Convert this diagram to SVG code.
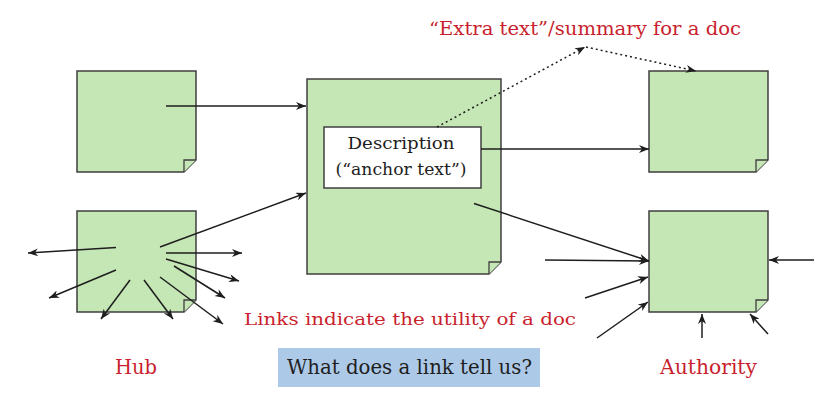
<svg xmlns="http://www.w3.org/2000/svg" width="839" height="409" viewBox="0 0 839 409">
<style>
.doc{fill:#c5e6b5;stroke:#3f3f3f;stroke-width:1.5;stroke-linejoin:miter}
.fold{fill:#c5e6b5;stroke:#3f3f3f;stroke-width:1.3}
.ln{stroke:#1e1e1e;stroke-width:1.5;fill:none;marker-end:url(#ah)}
.dot{stroke:#1e1e1e;stroke-width:1.5;fill:none;stroke-dasharray:2 3;marker-end:url(#ah)}
.red{fill:#c91f2e;font-family:"DejaVu Serif","Liberation Serif",serif}
.blk{fill:#1e1e1e;font-family:"DejaVu Serif","Liberation Serif",serif}
</style>
<defs>
<marker id="ah" viewBox="0 0 10 8" refX="10" refY="4" markerWidth="11" markerHeight="8" markerUnits="userSpaceOnUse" orient="auto">
<path d="M0,0 L10,4 L0,8 L3,4 z" fill="#1e1e1e"/>
</marker>
</defs>
<rect width="839" height="409" fill="#ffffff"/>

<g id="doc-topleft">
<path class="doc" d="M77,71 H196 V160 L184,172 H77 Z"/>
<path class="fold" d="M184,172 V160 H196"/>
</g>
<g id="doc-hub">
<path class="doc" d="M77,211 H196 V300 L184,312 H77 Z"/>
<path class="fold" d="M184,312 V300 H196"/>
</g>
<g id="doc-center">
<path class="doc" d="M307,79 H501 V262 L489,274 H307 Z"/>
<path class="fold" d="M489,274 V262 H501"/>
</g>
<g id="desc">
<rect x="324" y="127" width="157" height="61" fill="#ffffff" stroke="#3f3f3f" stroke-width="1.5"/>
<text class="blk" x="401" y="148.5" font-size="17" text-anchor="middle" textLength="107" lengthAdjust="spacingAndGlyphs">Description</text>
<text class="blk" x="401" y="175" font-size="17" text-anchor="middle" textLength="131" lengthAdjust="spacingAndGlyphs">(“anchor text”)</text>
</g>
<g id="doc-topright">
<path class="doc" d="M649,71 H768 V160 L756,172 H649 Z"/>
<path class="fold" d="M756,172 V160 H768"/>
</g>
<g id="doc-authority">
<path class="doc" d="M649,211 H768 V300 L756,312 H649 Z"/>
<path class="fold" d="M756,312 V300 H768"/>
</g>

<g id="connectors">
<line class="ln" x1="166" y1="106" x2="306" y2="106"/>
<line class="ln" x1="160" y1="247" x2="306" y2="193"/>
<line class="ln" x1="481" y1="149" x2="649" y2="149"/>
<line class="dot" x1="437" y1="127" x2="585" y2="47"/>
<line class="dot" x1="586" y1="47" x2="696" y2="71"/>
<line class="ln" x1="116" y1="247.5" x2="28" y2="253"/>
<line class="ln" x1="116" y1="270" x2="49" y2="298"/>
<line class="ln" x1="130" y1="280" x2="101" y2="319"/>
<line class="ln" x1="144" y1="280" x2="173" y2="319"/>
<line class="ln" x1="160" y1="277" x2="223" y2="324"/>
<line class="ln" x1="174" y1="266" x2="225" y2="298"/>
<line class="ln" x1="166" y1="259" x2="239" y2="281"/>
<line class="ln" x1="166" y1="253" x2="242" y2="253"/>
<line class="ln" x1="474" y1="203.5" x2="649" y2="261"/>
<line class="ln" x1="545" y1="260" x2="649" y2="261"/>
<line class="ln" x1="585" y1="298" x2="648" y2="277"/>
<line class="ln" x1="597" y1="338" x2="648" y2="302"/>
<line class="ln" x1="702" y1="338" x2="702" y2="314"/>
<line class="ln" x1="768" y1="334" x2="750" y2="314"/>
<line class="ln" x1="814" y1="260" x2="769" y2="260"/>
</g>

<g id="labels">
<text class="red" x="429" y="35" font-size="18" textLength="312" lengthAdjust="spacingAndGlyphs">“Extra text”/summary for a doc</text>
<text class="red" x="244" y="325" font-size="17.5" textLength="332" lengthAdjust="spacingAndGlyphs">Links indicate the utility of a doc</text>
<text class="red" x="115" y="374" font-size="20.5" textLength="42" lengthAdjust="spacingAndGlyphs">Hub</text>
<text class="red" x="660" y="374" font-size="20.5" textLength="97" lengthAdjust="spacingAndGlyphs">Authority</text>
</g>
<g id="question">
<rect x="278" y="348" width="262" height="39" fill="#adc9e8"/>
<text class="blk" x="287" y="374" font-size="20.5" textLength="245" lengthAdjust="spacingAndGlyphs">What does a link tell us?</text>
</g>
</svg>
